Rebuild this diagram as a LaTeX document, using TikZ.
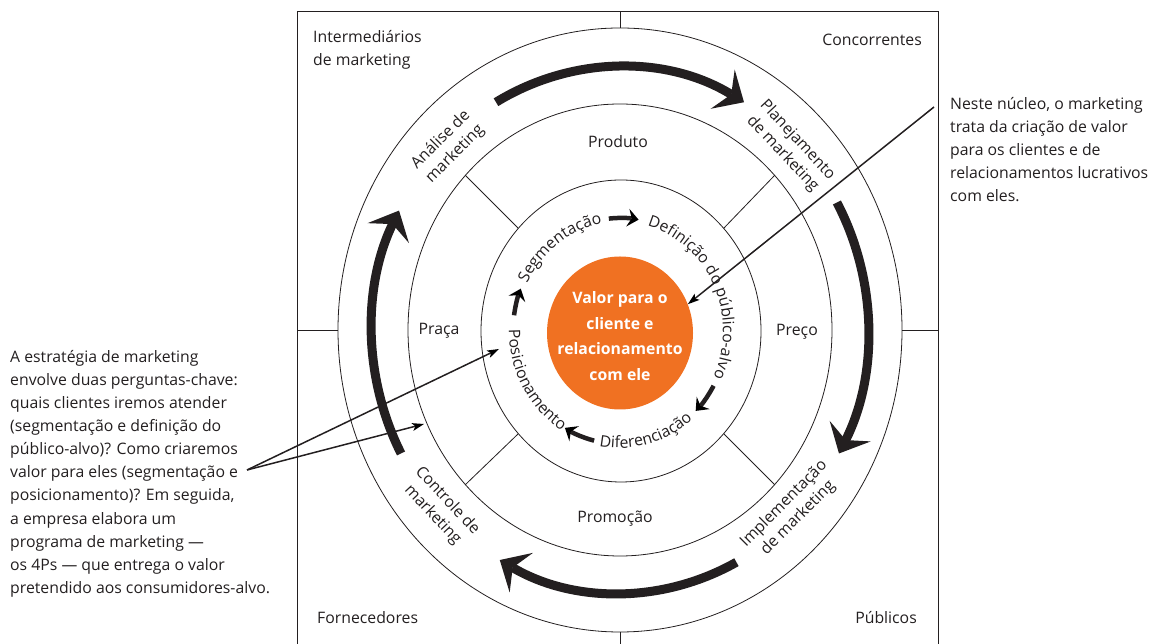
\documentclass[tikz,border=0pt]{standalone}
\usepackage{fontspec}
\setmainfont{Open Sans}
\usetikzlibrary{arrows.meta,shapes.geometric,decorations.text}
\definecolor{coreorange}{RGB}{240,113,34}
\definecolor{ink}{RGB}{35,31,32}
\newcommand\labelsize{\fontsize{15.8}{23.1}\selectfont}
\newcommand\ringsize{\fontsize{15.8}{19}\selectfont}
\begin{document}
\begin{tikzpicture}[x=1pt,y=1pt,
  every node/.style={text=ink, inner sep=0pt},
  ring/.style={draw=ink, line width=0.8pt, ellipse, inner sep=0pt},
  thin/.style={draw=ink, line width=0.8pt},
  frame/.style={draw=ink, line width=1pt},
  lbl/.style={font=\labelsize},
  ringlbl/.style={font=\fontsize{15.8}{20}\selectfont, align=center},
  cyclearrow/.style={draw=ink, line width=9pt, -{Stealth[length=25pt,width=46pt,inset=10pt,line width=0pt]}},
  steparrow/.style={draw=ink, line width=4.5pt, -{Stealth[length=11pt,width=18pt,inset=4pt,line width=0pt]}},
  pointer/.style={draw=ink, line width=1.5pt, -{Stealth[length=12pt,width=8pt,inset=3pt,line width=0pt]}},
  ringtext/.style={decorate, decoration={text along path, text align=center, text color=ink, text={|\ringsize|#1}}},
]
\clip (0,0) rectangle (1153,644);

% frame around the environment
\coordinate (ftop) at (620,632);
\coordinate (fleft) at (297,314);
\coordinate (fright) at (938,314);
\coordinate (fbottom) at (620,-20);
\draw[frame] (297,-20) -- (297,632) -- (938,632) -- (938,-20);

% rings
\coordinate (C) at (620,314);
\coordinate (Ci) at (620,313);
\node[ring, minimum width=564pt, minimum height=604pt] (outer) at (C) {};
\node[ring, minimum width=424pt, minimum height=452pt] (mid) at (C) {};
\node[ring, minimum width=280pt, minimum height=302pt] (inner) at (621,313) {};
\node[ellipse, fill=coreorange, minimum width=146pt, minimum height=153pt, inner sep=0pt] (core) at (620,311) {};

% ticks to the frame
\draw[thin] (outer.north) -- (ftop);
\draw[thin] (outer.west) -- (fleft);
\draw[thin] (outer.east) -- (fright);
\draw[thin] (outer.south) -- (fbottom);

% dividers of the 4Ps ring
\foreach \a in {45,135,225,315} \draw[thin] (inner.\a) -- (mid.\a);

% environment labels
\node[lbl, anchor=west, align=left] (intermed) at (313,594) {Intermediários\\de marketing};
\node[lbl, anchor=east] (concorr) at (922,604) {Concorrentes};
\node[lbl, anchor=west] (fornec) at (317,26) {Fornecedores};
\node[lbl, anchor=east] (publicos) at (917,26) {Públicos};

% 4Ps
\node[lbl] (produto) at (618,502) {Produto};
\node[lbl] (praca) at (439,313) {Praça};
\node[lbl] (preco) at (797,312) {Preço};
\node[lbl] (promocao) at (615,125) {Promoção};

% management cycle
\draw[cyclearrow] ([shift={(120:248pt and 263pt)}]C) arc[start angle=120,end angle=60,x radius=248pt,y radius=263pt];
\draw[cyclearrow] ([shift={(29:248pt and 263pt)}]C) arc[start angle=29,end angle=-28,x radius=248pt,y radius=263pt];
\draw[cyclearrow] ([shift={(-62:248pt and 263pt)}]C) arc[start angle=-62,end angle=-119,x radius=248pt,y radius=263pt];
\draw[cyclearrow] ([shift={(208:248pt and 263pt)}]C) arc[start angle=208,end angle=153,x radius=248pt,y radius=263pt];

\node[ringlbl, rotate=45] (analise) at (448,497) {Análise de\\marketing};
\node[ringlbl, rotate=-47] (planej) at (790,497) {Planejamento\\de marketing};
\node[ringlbl, rotate=45] (implem) at (791,133) {Implementação\\de marketing};
\node[ringlbl, rotate=-47] (controle) at (440,136) {Controle de\\marketing};

% strategy ring: curved words and step arrows
\path[ringtext={Segmentação}] ([shift={(158:103pt and 109pt)}]Ci) arc[start angle=158,end angle=96,x radius=103pt,y radius=109pt];
\path[ringtext={Definição do público-alvo}] ([shift={(80:103pt and 109pt)}]Ci) arc[start angle=80,end angle=-30,x radius=103pt,y radius=109pt];
\path[ringtext={Diferenciação}] ([shift={(-104:111pt and 117pt)}]Ci) arc[start angle=-104,end angle=-46,x radius=111pt,y radius=117pt];
\path[ringtext={Posicionamento}] ([shift={(176:111pt and 117pt)}]Ci) arc[start angle=176,end angle=242,x radius=111pt,y radius=117pt];

\draw[steparrow] ([shift={(96:107pt and 113pt)}]Ci) arc[start angle=96,end angle=80,x radius=107pt,y radius=113pt];
\draw[steparrow] ([shift={(-29:107pt and 113pt)}]Ci) arc[start angle=-29,end angle=-45,x radius=107pt,y radius=113pt];
\draw[steparrow] ([shift={(-104:107pt and 113pt)}]Ci) arc[start angle=-104,end angle=-121,x radius=107pt,y radius=113pt];
\draw[steparrow] ([shift={(172:107pt and 113pt)}]Ci) arc[start angle=172,end angle=158,x radius=107pt,y radius=113pt];

% core
\node[text=white, font=\bfseries\fontsize{15.8}{25.5}\selectfont, align=center] (coretext) at (620,308) {Valor para o\\cliente e\\relacionamento\\com ele};

% side notes
\node[lbl, anchor=north west, align=left] (strategy) at (10,294) {A estratégia de marketing\\envolve duas perguntas-chave:\\quais clientes iremos atender\\(segmentação e definição do\\público-alvo)? Como criaremos\\valor para eles (segmentação e\\posicionamento)? Em seguida,\\a empresa elabora um\\programa de marketing —\\os 4Ps — que entrega o valor\\pretendido aos consumidores-alvo.};
\node[lbl, anchor=north west, align=left] (corenote) at (950,547) {Neste núcleo, o marketing\\trata da criação de valor\\para os clientes e de\\relacionamentos lucrativos\\com eles.};

\coordinate (lstart) at (247,174);
\coordinate (ltipA) at (499,295);
\coordinate (ltipB) at (424,220);
\coordinate (rstart) at (934,537);
\draw[pointer] (lstart) -- (ltipA);
\draw[pointer] (lstart) -- (ltipB);
\draw[pointer] (rstart) -- (core.23);
\end{tikzpicture}
\end{document}
